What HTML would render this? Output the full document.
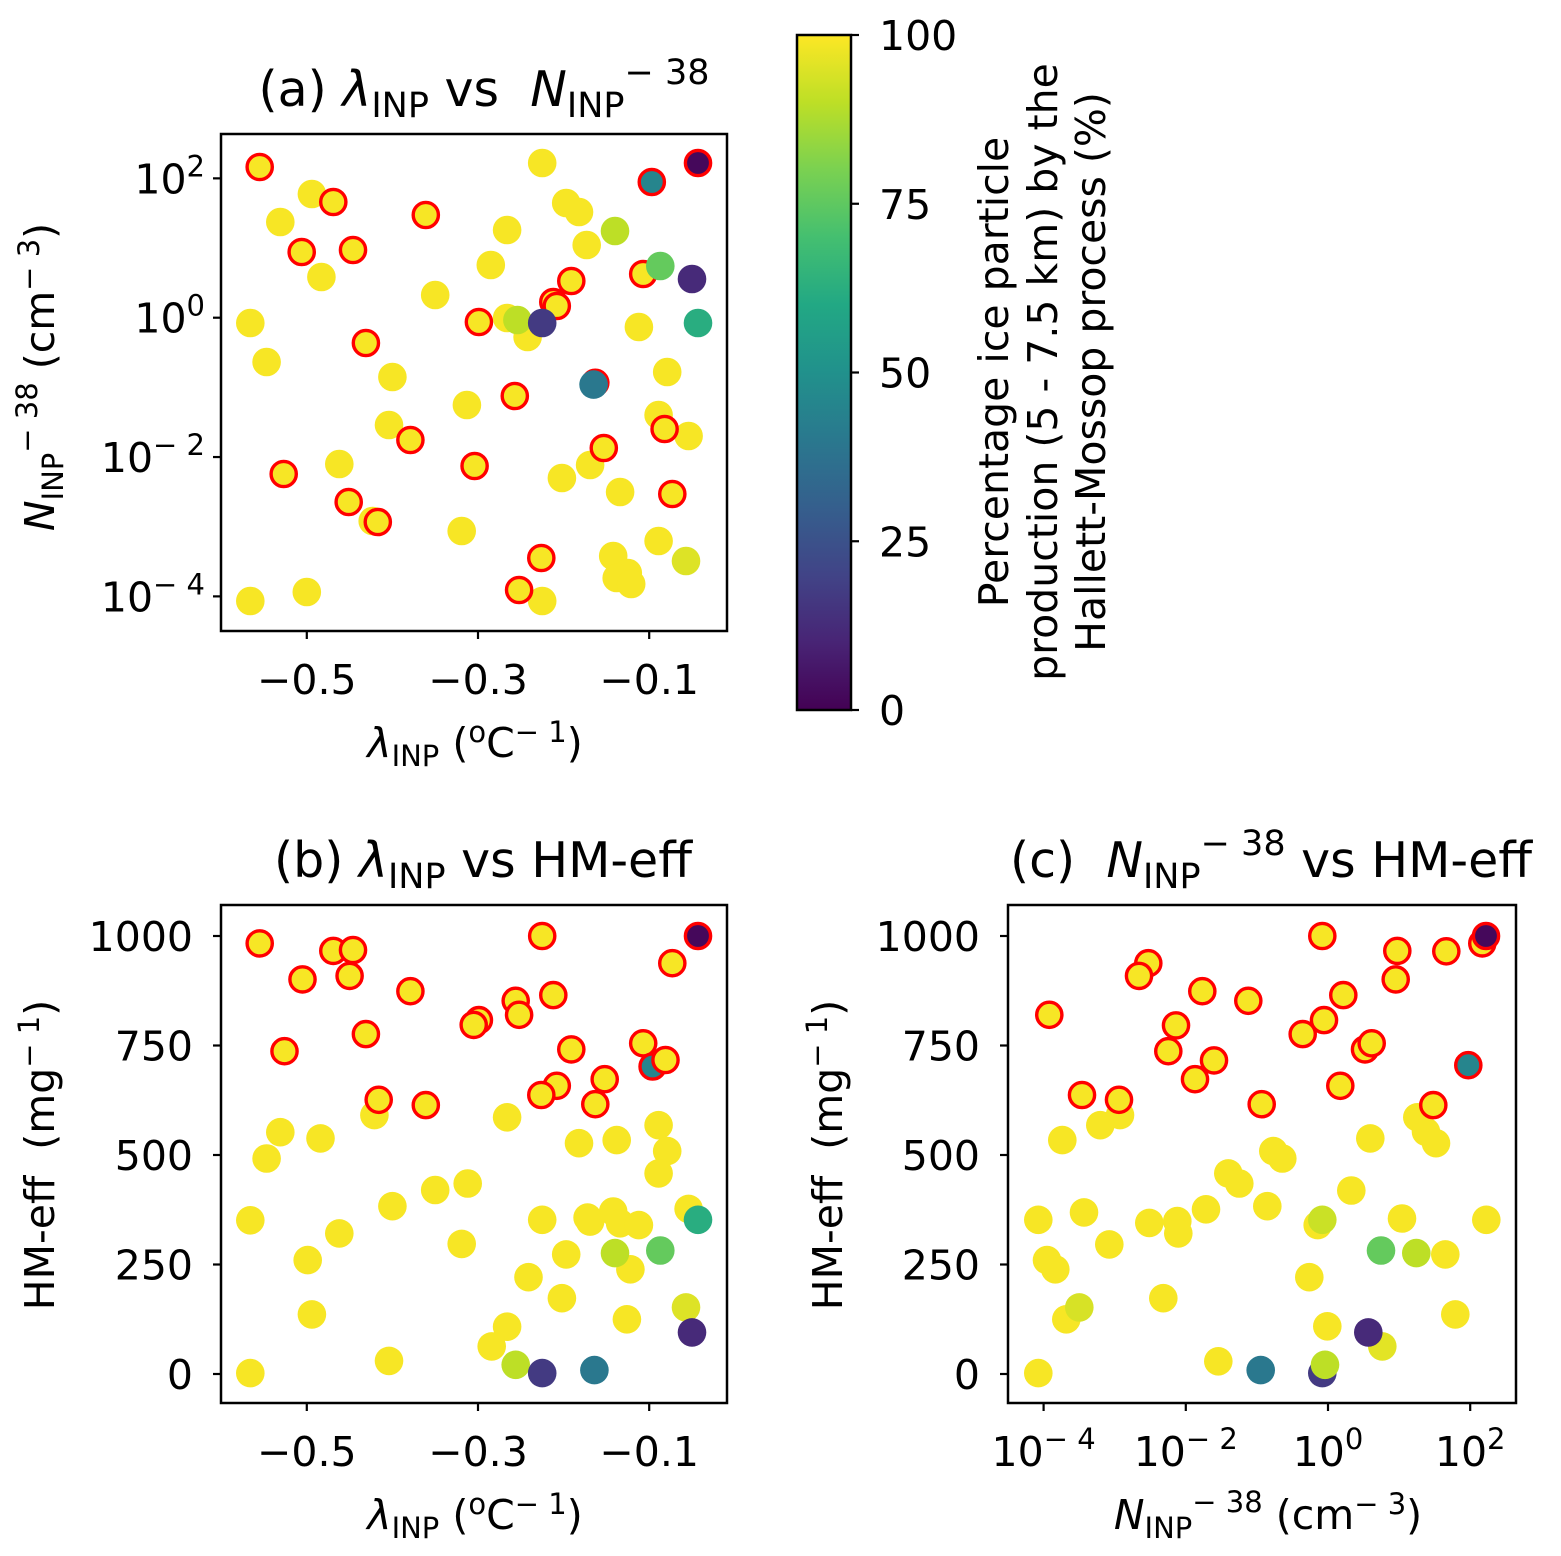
<!DOCTYPE html>
<html><head><meta charset="utf-8">
<style>
html,body{margin:0;padding:0;background:#fff;}
svg{display:block;font-family:"DejaVu Sans","Liberation Sans",sans-serif;}
</style></head>
<body>
<svg id="fig" width="1561" height="1556" viewBox="0 0 1561 1556" xmlns="http://www.w3.org/2000/svg">
<defs>
<linearGradient id="vir" x1="0" y1="1" x2="0" y2="0">
<stop offset="0" stop-color="#440154"/><stop offset="0.1" stop-color="#482475"/><stop offset="0.2" stop-color="#414487"/><stop offset="0.3" stop-color="#355f8d"/><stop offset="0.4" stop-color="#2a788e"/><stop offset="0.5" stop-color="#21918c"/><stop offset="0.6" stop-color="#22a884"/><stop offset="0.7" stop-color="#44bf70"/><stop offset="0.8" stop-color="#7ad151"/><stop offset="0.9" stop-color="#bddf26"/><stop offset="1" stop-color="#fde725"/>
</linearGradient>
</defs>
<rect width="1561" height="1556" fill="#fff"/>
<g id="marksA"></g>
<g id="marksB"></g>
<g id="marksC"></g>
<g id="axes"></g>
<rect x="221" y="134" width="506" height="497" fill="none" stroke="#000" stroke-width="2.5"/>
<rect x="221" y="905" width="506" height="498" fill="none" stroke="#000" stroke-width="2.5"/>
<rect x="1008" y="905" width="508" height="498" fill="none" stroke="#000" stroke-width="2.5"/>

<text x="484" y="106" font-size="49" text-anchor="middle" xml:space="preserve">(a) <tspan font-style="italic">λ</tspan><tspan font-size="35" dy="11">INP</tspan><tspan dy="-11"> vs  </tspan><tspan font-style="italic">N</tspan><tspan font-size="35" dy="11">INP</tspan><tspan font-size="35" dy="-33">− 38</tspan></text>
<text x="483" y="877" font-size="49" text-anchor="middle">(b) <tspan font-style="italic">λ</tspan><tspan font-size="35" dy="11">INP</tspan><tspan dy="-11"> vs HM-eff</tspan></text>
<text x="1271" y="877" font-size="49" text-anchor="middle" xml:space="preserve">(c)  <tspan font-style="italic">N</tspan><tspan font-size="35" dy="11">INP</tspan><tspan font-size="35" dy="-33">− 38</tspan><tspan dy="22"> vs HM-eff</tspan></text>

<text x="475" y="757" font-size="41" text-anchor="middle"><tspan font-style="italic">λ</tspan><tspan font-size="29" dy="9">INP</tspan><tspan dy="-9"> (</tspan><tspan font-size="29" dy="-15">o</tspan><tspan dy="15">C</tspan><tspan font-size="29" dy="-15">− 1</tspan><tspan dy="15">)</tspan></text>
<text x="475" y="1529" font-size="41" text-anchor="middle"><tspan font-style="italic">λ</tspan><tspan font-size="29" dy="9">INP</tspan><tspan dy="-9"> (</tspan><tspan font-size="29" dy="-15">o</tspan><tspan dy="15">C</tspan><tspan font-size="29" dy="-15">− 1</tspan><tspan dy="15">)</tspan></text>
<text x="1268" y="1529" font-size="41" text-anchor="middle"><tspan font-style="italic">N</tspan><tspan font-size="29" dy="9">INP</tspan><tspan font-size="29" dy="-26">− 38</tspan><tspan dy="17"> (cm</tspan><tspan font-size="29" dy="-15">− 3</tspan><tspan dy="15">)</tspan></text>

<text transform="translate(54,377) rotate(-90)" font-size="41" text-anchor="middle"><tspan font-style="italic">N</tspan><tspan font-size="29" dy="9">INP</tspan><tspan font-size="29" dy="-26">− 38</tspan><tspan dy="17"> (cm</tspan><tspan font-size="29" dy="-15">− 3</tspan><tspan dy="15">)</tspan></text>
<text transform="translate(54,1155) rotate(-90)" font-size="41" text-anchor="middle" xml:space="preserve">HM-eff  (mg<tspan font-size="29" dy="-15">− 1</tspan><tspan dy="15">)</tspan></text>
<text transform="translate(842,1155) rotate(-90)" font-size="41" text-anchor="middle" xml:space="preserve">HM-eff  (mg<tspan font-size="29" dy="-15">− 1</tspan><tspan dy="15">)</tspan></text>

<rect x="797" y="35" width="54" height="675" fill="url(#vir)" stroke="#000" stroke-width="2.5"/>
<g id="cbticks"></g>
<g font-size="41" text-anchor="middle">
<text transform="translate(1008,372) rotate(-90)">Percentage ice particle</text>
<text transform="translate(1057,372) rotate(-90)">production (5 - 7.5 km) by the</text>
<text transform="translate(1105,372) rotate(-90)">Hallett-Mossop process (%)</text>
</g>
</svg>
<script>
// ---- Panel (a): lambda vs log10 N
const aLam=[-0.555,-0.494,-0.469,-0.531,-0.361,-0.506,-0.446,-0.483,-0.350,-0.566,-0.431,-0.547,-0.400,-0.404,-0.379,-0.462,-0.527,-0.451,-0.423,-0.417,-0.566,-0.500,-0.225,-0.043,-0.097,-0.197,-0.182,-0.266,-0.140,-0.173,-0.285,-0.107,-0.087,-0.050,-0.191,-0.212,-0.208,-0.299,-0.266,-0.254,-0.242,-0.225,-0.112,-0.043,-0.079,-0.163,-0.165,-0.257,-0.313,-0.089,-0.082,-0.054,-0.153,-0.169,-0.304,-0.202,-0.134,-0.073,-0.319,-0.089,-0.057,-0.142,-0.226,-0.125,-0.138,-0.121,-0.252,-0.225];
const aLogN=[2.163,1.776,1.661,1.374,1.474,0.943,0.972,0.584,0.326,-0.076,-0.363,-0.636,-0.851,-1.540,-1.755,-2.100,-2.243,-2.645,-2.918,-2.932,-4.066,-3.937,2.220,2.220,1.948,1.646,1.517,1.259,1.244,1.043,0.756,0.627,0.742,0.555,0.527,0.225,0.168,-0.062,-0.004,-0.033,-0.277,-0.076,-0.133,-0.076,-0.779,-0.935,-0.960,-1.124,-1.253,-1.397,-1.598,-1.698,-1.870,-2.114,-2.129,-2.301,-2.502,-2.531,-3.062,-3.205,-3.492,-3.420,-3.449,-3.664,-3.736,-3.822,-3.908,-4.066];
const aPct=[99,99,99,99,99,99,99,99,99,99, 99,99,99,99,99,99,99,99,99,99, 99,99,99,2,45,99,99,99,90,99, 99,99,76,12,99,99,99,99,99,90, 99,17,99,62,99,99,40,99,99,99, 99,99,99,99,99,99,99,99,99,99, 95,99,99,99,99,99,99,99];
const aRed=[1,0,1,0,1,1,1,0,0,0, 1,0,0,0,1,0,1,1,0,1, 0,0,0,1,1,0,0,0,0,0, 0,1,0,0,1,1,1,1,0,0, 0,0,0,0,0,1,0,1,0,0, 1,0,1,0,1,0,0,1,0,0, 0,0,1,0,0,0,1,0];
// ---- Panel (b): lambda vs HM-eff
const bLam=[-0.555,-0.469,-0.446,-0.505,-0.450,-0.379,-0.431,-0.526,-0.416,-0.421,-0.361,-0.531,-0.484,-0.547,-0.400,-0.350,-0.566,-0.462,-0.499,-0.494,-0.404,-0.566,-0.225,-0.043,-0.073,-0.212,-0.256,-0.252,-0.299,-0.305,-0.191,-0.107,-0.096,-0.081,-0.152,-0.208,-0.226,-0.163,-0.266,-0.089,-0.138,-0.182,-0.079,-0.089,-0.312,-0.054,-0.043,-0.225,-0.172,-0.142,-0.134,-0.112,-0.169,-0.319,-0.197,-0.140,-0.087,-0.122,-0.241,-0.202,-0.057,-0.126,-0.266,-0.050,-0.284,-0.256,-0.225,-0.164];
const bHm=[983,966,968,901,909,874,776,737,626,591,614,552,538,492,383,420,351,321,260,136,30,2,1000,1000,938,865,852,820,808,797,741,755,702,717,673,658,637,616,586,568,534,527,509,458,435,377,352,352,357,371,344,340,348,297,273,276,282,239,221,173,152,125,108,95,63,21,2,9];
const bPct=[99,99,99,99,99,99,99,99,99,99, 99,99,99,99,99,99,99,99,99,99, 99,99,99,2,99,99,99,99,99,99, 99,99,45,99,99,99,99,99,99,99, 99,99,99,99,99,99,62,99,99,99, 99,99,99,99,99,90,76,99,99,99, 95,99,99,12,99,90,17,40];
const bRed=[1,1,1,1,1,1,1,1,1,0, 1,0,0,0,0,0,0,0,0,0, 0,0,1,1,1,1,1,1,1,1, 1,1,1,1,1,1,1,1,0,0, 0,0,0,0,0,0,0,0,0,0, 0,0,0,0,0,0,0,0,0,0, 0,0,0,0,0,0,0,0];
// ---- Panel (c): log10 N vs HM-eff
const cLogN=[-2.527,-2.658,-3.920,-1.768,-1.121,-2.138,-2.246,-1.603,-1.871,-3.460,-2.925,-2.939,-3.203,-3.737,-1.402,-1.247,-4.074,-3.432,-2.513,-2.119,-2.105,-1.716,-3.076,-3.952,-3.835,-3.498,-3.681,-2.316,-1.543,-4.074,-0.933,-0.769,-0.643,-0.854,-0.947,-0.080,0.975,1.664,2.170,2.222,0.952,0.215,-0.056,-0.356,0.520,0.614,1.973,0.173,1.481,1.256,1.378,1.519,0.595,0.328,1.041,2.227,-0.080,-0.145,0.745,1.242,1.650,-0.263,1.790,-0.010,0.764,0.567,-0.080,-0.042];
const cHm=[938,909,820,874,852,796,737,716,673,637,591,626,568,534,458,435,352,369,345,349,321,376,296,260,239,152,125,173,29,2,616,509,492,383,9,1000,966,965,983,1000,901,865,808,776,741,755,705,658,614,586,553,527,538,419,355,352,352,340,282,276,273,221,136,109,63,95,2,21];
const cPct=[99,99,99,99,99,99,99,99,99,99, 99,99,99,99,99,99,99,99,99,99, 99,99,99,99,99,94,99,99,99,99, 99,99,99,99,40,99,99,99,99,2, 99,99,99,99,99,99,45,99,99,99, 99,99,99,99,99,99,92,99,76,90, 99,99,99,99,96,12,17,90];
const cRed=[1,1,1,1,1,1,1,1,1,1, 0,1,0,0,0,0,0,0,0,0, 0,0,0,0,0,0,0,0,0,0, 1,0,0,0,0,1,1,1,1,1, 1,1,1,1,1,1,1,1,1,0, 0,0,0,0,0,0,0,0,0,0, 0,0,0,0,0,0,0,0];
// ---- ticks
const lamTicks=[-0.5,-0.3,-0.1];
const lamTickLabels=["−0.5","−0.3","−0.1"];
const logTicks=[2,0,-2,-4];
const logTickLabels=["2","0","− 2","− 4"];
const hmTicks=[0,250,500,750,1000];
const hmTickLabels=["0","250","500","750","1000"];
const cbTicks=[0,25,50,75,100];
const cbTickLabels=["0","25","50","75","100"];

const NS="http://www.w3.org/2000/svg";
const xLam=v=>478+(v+0.3)*856;
const yLogA=v=>317.7-v*69.67;
const yHm=v=>1374-v*0.438;
const xLogC=v=>1328+v*71.1;
const yCb=v=>710-v*6.75;
const vir=["#440154","#482475","#414487","#355f8d","#2a788e","#21918c","#22a884","#44bf70","#7ad151","#bddf26","#fde725"];
function hex(c){return [1,3,5].map(i=>parseInt(c.substr(i,2),16));}
function viridis(p){let t=Math.max(0,Math.min(1,p/100))*10;let i=Math.min(9,Math.floor(t));let f=t-i;
 const a=hex(vir[i]),b=hex(vir[i+1]);return "rgb("+a.map((x,k)=>Math.round(x+(b[k]-x)*f)).join(",")+")";}
function mk(tag,attrs,parent){const e=document.createElementNS(NS,tag);for(const k in attrs)e.setAttribute(k,attrs[k]);parent.appendChild(e);return e;}

function drawPanel(gid,xs,ys,pct,red,fx,fy,name){
 const g=document.getElementById(gid);
 const idx=xs.map((_,i)=>i);
 const grp=i=>red[i]?1:(pct[i]>=98?0:2);
 idx.sort((a,b)=>grp(a)-grp(b)||a-b);
 idx.forEach(i=>{
  const c=mk("circle",{cx:fx(xs[i]).toFixed(1),cy:fy(ys[i]).toFixed(1),r:red[i]?12.6:14.3,fill:viridis(pct[i])},g);
  if(red[i]){c.setAttribute("stroke","#ff0000");c.setAttribute("stroke-width","3.4");}
  
  
 });
}
drawPanel("marksA",aLam,aLogN,aPct,aRed,xLam,yLogA,"panel-a");
drawPanel("marksB",bLam,bHm,bPct,bRed,xLam,yHm,"panel-b");
drawPanel("marksC",cLogN,cHm,cPct,cRed,xLogC,yHm,"panel-c");

const ax=document.getElementById("axes");
function xTicks(vals,labs,fx,y0,name,log){
 vals.forEach((v,i)=>{const x=fx(v);
  const l=mk("line",{x1:x,y1:y0,x2:x,y2:y0+8,stroke:"#000","stroke-width":2.2},ax);
  
  
  const t=mk("text",{x:x,y:y0+63,"font-size":41,"text-anchor":"middle"},ax);
  if(log){t.innerHTML='10<tspan font-size="29" dy="-17">'+labs[i]+'</tspan>';}else t.textContent=labs[i];
  
  
 });
}
function yTicks(vals,labs,fy,x0,name,log,gap){
 vals.forEach((v,i)=>{const y=fy(v);
  const l=mk("line",{x1:x0-8,y1:y,x2:x0,y2:y,stroke:"#000","stroke-width":2.2},ax);
  
  
  const t=mk("text",{x:x0-gap,y:y+15,"font-size":41,"text-anchor":"end"},ax);
  if(log){t.innerHTML='10<tspan font-size="29" dy="-17">'+labs[i]+'</tspan>';}else t.textContent=labs[i];
  
  
 });
}
xTicks(lamTicks,lamTickLabels,xLam,631,"panel-a-x",false);
yTicks(logTicks,logTickLabels,yLogA,221,"panel-a-y",true,16);
xTicks(lamTicks,lamTickLabels,xLam,1403,"panel-b-x",false);
yTicks(hmTicks,hmTickLabels,yHm,221,"panel-b-y",false,28);
xTicks(logTicks,logTickLabels,xLogC,1403,"panel-c-x",true);
yTicks(hmTicks,hmTickLabels,yHm,1008,"panel-c-y",false,28);
const cb=document.getElementById("cbticks");
cbTicks.forEach((v,i)=>{const y=yCb(v);
 const l=mk("line",{x1:851,y1:y,x2:859,y2:y,stroke:"#000","stroke-width":2.2},cb);
 
 
 const t=mk("text",{x:879,y:y+15,"font-size":41},cb);
 t.textContent=cbTickLabels[i];
 
 
});
</script>
</body></html>
